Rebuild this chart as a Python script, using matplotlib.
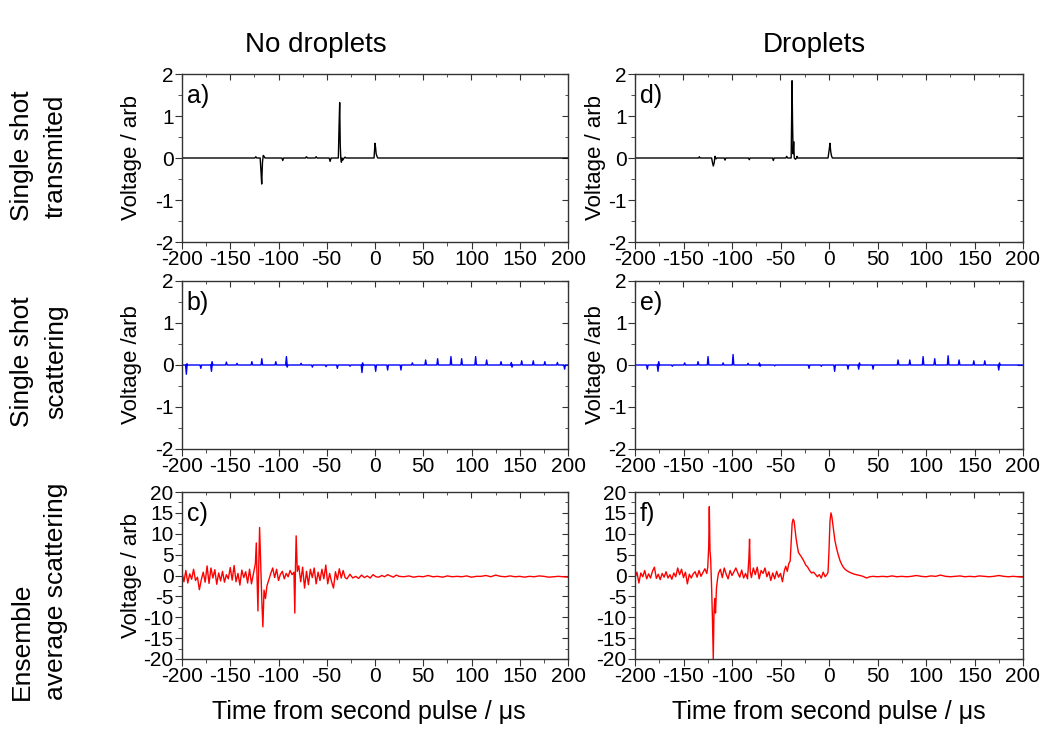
import numpy as np
import matplotlib
matplotlib.use('Agg')
import matplotlib.pyplot as plt
from matplotlib.ticker import MultipleLocator

plt.rcParams['font.family'] = ['Liberation Sans', 'DejaVu Sans']
plt.rcParams['axes.unicode_minus'] = False

# a) no droplets, single shot transmitted
a_t = [-200, -124.5, -123.5, -122.5, -119, -118.2, -117.4, -116.6, -115.8, -115, -114,
       -96.5, -95.6, -94.7, -72, -71, -70, -62, -61, -60, -47.5, -46.5, -45.5,
       -38, -37.2, -36.6, -36.0, -35.4, -34.8, -34.2, -33.4, -32, -31, -30,
       -1, 0, 0.6, 1.2, 2.2, 3, 200]
a_v = [0, 0, 0.03, 0, 0, -0.3, -0.62, -0.1, 0.06, 0.04, 0,
       0, -0.06, 0, 0, 0.03, 0, 0, 0.03, 0, 0, -0.08, 0,
       0, 0.8, 1.32, 0.3, -0.02, -0.1, 0, -0.05, 0, 0.02, 0,
       0, 0.35, 0.25, 0.1, 0.03, 0, 0]

# d) droplets, single shot transmitted
d_t = [-200, -134.5, -133.7, -133, -121, -120.2, -119.3, -118.4, -117.5, -116.5, -115.5,
       -108, -107.2, -106.4, -83, -82.2, -81.4, -58.2, -57.4, -56.6, -44.5, -43.6, -42.7,
       -39, -38.5, -38.1, -37.6, -37.0, -36.4, -35.8, -34.5, -33.5, -33, -32.3,
       -1, 0.2, 1.0, 1.8, 2.6, 3.5, 200]
d_v = [0, 0, 0.03, 0, 0, -0.1, -0.19, -0.12, 0.04, -0.02, 0,
       0, -0.05, 0, 0, -0.04, 0, 0, -0.06, 0, 0, 0.04, 0,
       0, 1.0, 1.84, 0.9, 0.1, 0.39, 0, -0.03, 0, 0.04, 0,
       0, 0.2, 0.35, 0.15, 0.05, 0, 0]

# b) no droplets, single shot scattering (pulse times / heights)
b_spike_t = [-195.5, -194.8, -180.5, -169.5, -168.8, -154, -143, -127.6, -117.3, -102.8,
             -91.8, -91.0, -76.6, -64.9, -50.7, -39, -25.9, -13.5, -12.8, 0.7,
             13.1, 26.9, 38.7, 52.5, 64.9, 78.7, 89.8, 104.3, 115.7, 130.6,
             141.2, 142.0, 152, 164, 176, 189, 196.5]
b_spike_v = [-0.22, 0.03, -0.08, -0.15, 0.08, 0.07, 0.04, 0.08, 0.15, 0.08,
             0.2, -0.05, 0.04, -0.05, -0.04, -0.08, -0.03, -0.18, 0.05, -0.15,
             -0.12, -0.12, 0.05, 0.12, 0.15, 0.2, 0.15, 0.2, 0.12, 0.08,
             0.06, -0.05, 0.1, 0.1, 0.08, 0.06, -0.1]

# e) droplets, single shot scattering
e_spike_t = [-187.3, -176.3, -175.5, -161.5, -148.8, -135, -124.7, -109.2, -98.9, -83.4,
             -71.8, -71.0, -55.9, -20.6, -7.9, 5.8, 19.6, 30.6, 31.4, 45.4,
             71.2, 83.3, 97, 109, 122.8, 134.1, 149.3, 160.6, 175.0, 175.8]
e_spike_v = [-0.1, -0.15, 0.08, -0.03, 0.05, 0.08, 0.2, 0.05, 0.25, 0.04,
             0.05, -0.03, -0.02, -0.08, -0.03, -0.15, -0.1, -0.1, 0.05, -0.1,
             0.12, 0.12, 0.2, 0.15, 0.22, 0.12, 0.1, 0.1, -0.12, 0.05]

# c) no droplets, ensemble average scattering
c_t = (list(range(-200, -123, 2))
       + [-123, -122.4, -121.3, -120.5, -119.6, -118.5, -117.2, -116.2, -115, -113.5, -112]
       + list(range(-110, -83, 2))
       + [-83.1, -82.4, -81.7, -80.5]
       + list(range(-79, -30, 2))
       + list(range(-29, 26, 3))
       + list(range(30, 201, 5)))
c_v = ([0.8, -1.5, 1.2, -1.8, 0.4, -0.9, 1.5, -1.2, -0.4, -3.4,
        -1.0, 0.8, -1.6, 2.3, -1.9, 1.8, -0.6, 1.4, -2.1, 0.6,
        -1.3, 1.0, -1.6, 0.2, -0.8, 1.9, -1.1, 2.4, -1.5, 0.5,
        -2.3, 1.3, -0.5, 0.9, -1.8, 1.5, -2.0, 0.4, 2.8]
       + [7.8, 1.0, -8.5, 2.0, 11.5, 3.0, -6.5, -12.3, -3.5, -5.5, -2.5]
       + [-1.0, 0.5, 1.8, -0.5, 1.5, -1.2, 0.3, 1.0, -0.8, 0.5, -0.3, 1.2, 0.2, 0.8]
       + [-9.0, 2.0, 9.5, 1.0]
       + [2.3, -1.5, 2.0, -3.0, 1.0, -2.2, 1.5, -0.5, 1.8, -2.0, 0.8, -1.2, 1.5,
          -0.8, 2.5, -2.0, 0.5, -1.5, -3.0, 0.9, -1.0, 1.6, -0.6, 1.2, -0.5]
       + [-0.8, 0.3, -0.6, -0.2, -0.7, 0.1, -0.5, -0.1, -0.6, 0.2,
          -0.3, -0.4, 0.0, -0.3, 0.2, -0.1, -0.4, 0.1, -0.2]
       + [-0.3, -0.1, -0.4, -0.2, -0.3, 0.0, -0.3, -0.2, -0.4, -0.1,
          -0.3, -0.2, -0.3, -0.1, -0.4, -0.2, -0.2, 0.0, -0.3, 0.1,
          -0.2, -0.3, -0.1, -0.3, -0.2, -0.4, -0.2, -0.3, -0.1, -0.2,
          -0.4, -0.3, -0.2, -0.3, -0.4])

# f) droplets, ensemble average scattering
f_t = (list(range(-200, -125, 2))
       + [-125, -124, -123.4, -122.7, -122, -121, -120.2, -119.3, -118.6, -117.8, -117, -116, -115, -114]
       + list(range(-112, -83, 2))
       + [-82.6, -81.9, -81.2]
       + list(range(-80, -45, 2))
       + [-44.6, -43, -41.5, -40, -39, -38, -37, -36, -35, -34, -33, -31.5, -30, -28,
          -26, -24, -22, -20, -18, -16, -14, -12, -10, -8, -6, -4, -2, -1]
       + [0, 1, 2, 3, 4.4, 6, 7.8, 9.5, 11.3, 13, 14.7, 16.5, 18.1, 21, 25, 28, 32, 35, 38.7, 42, 45.6]
       + list(range(50, 201, 5)))
f_v = ([-0.5, 0.8, -1.8, 0.6, -0.3, 1.2, -0.8, 0.4, -0.6, 1.0,
        2.0, -0.7, 0.3, -1.0, 0.5, -0.4, 0.9, -0.6, 0.2, -0.9,
        0.6, -0.3, 1.8, 0.2, 1.5, -0.5, 0.8, -2.0, 0.3, -0.6,
        0.4, 0.9, -0.4, 1.2, -0.2, 0.7, 1.6, 0.5]
       + [2.0, 7.0, 16.5, 6.0, 4.0, -3.0, -10.0, -20.0, -9.0, -5.5, -9.0, -3.0, -1.0, 0.5]
       + [1.5, -0.5, 1.8, 0.3, -0.8, 1.2, 0.0, 0.9, 1.8, 0.6, -0.4, 1.3, -0.6, 0.5, -0.8]
       + [4.0, 8.7, 1.0]
       + [-0.5, 1.8, 0.2, 2.0, -0.8, 1.2, 0.5, 1.8, -0.3, 0.9, -1.2, 0.6, -0.8, 1.0, -0.4, 0.5, -1.5, 1.2]
       + [2.2, 1.0, 2.8, 3.5, 8.0, 12.5, 13.5, 13.0, 11.0, 9.0, 7.5, 5.5, 5.0, 4.3,
          3.5, 2.5, 2.0, 1.2, 0.6, 0.8, 0.3, -0.3, 0.2, -0.6, 0.8, -0.3, 0.3, 0.8]
       + [6.0, 13.0, 15.0, 14.0, 11.5, 8.5, 6.5, 5.0, 3.6, 2.7, 2.0, 1.5, 1.2, 0.8, 0.4,
          0.2, 0.0, -0.2, -0.6, -0.3, -0.2]
       + [-0.3, -0.2, -0.3, -0.1, -0.3, -0.2, -0.3, -0.2, 0.0, -0.2,
          -0.3, -0.1, -0.2, 0.1, -0.2, -0.3, -0.2, -0.1, -0.3, -0.2,
          -0.3, -0.1, -0.2, -0.3, -0.2, 0.0, -0.2, -0.3, -0.2, -0.3, -0.4])


def spike_trace(ts, vs, w=0.8):
    x, y = [-200], [0]
    for t, v in zip(ts, vs):
        x += [t - w, t, t + w]
        y += [0, v, 0]
    x.append(200)
    y.append(0)
    return x, y


W, H = 1044, 730
fig = plt.figure(figsize=(W / 100, H / 100), dpi=100)


def box(l, t, r, b):
    return [l / W, 1 - b / H, (r - l) / W, (b - t) / H]


rows = [(74, 242), (281, 449), (492, 659)]
cols = [(182, 568), (635, 1023)]

TICK = 15


def style(ax, big):
    ax.set_xlim(-200, 200)
    ax.xaxis.set_major_locator(MultipleLocator(50))
    ax.xaxis.set_minor_locator(MultipleLocator(25))
    if big:
        ax.set_ylim(-20, 20)
        ax.yaxis.set_major_locator(MultipleLocator(5))
        ax.yaxis.set_minor_locator(MultipleLocator(2.5))
    else:
        ax.set_ylim(-2, 2)
        ax.yaxis.set_major_locator(MultipleLocator(1))
        ax.yaxis.set_minor_locator(MultipleLocator(0.5))
    for s in ax.spines.values():
        s.set_color('#333333')
        s.set_linewidth(1.0)
    ax.tick_params(which='both', direction='out', labelsize=TICK, pad=1,
                   color='#333333', top=False, right=False)
    ax.tick_params(which='major', length=5)
    ax.tick_params(which='minor', length=3)
    sec = ax.secondary_xaxis('top')
    sec.xaxis.set_major_locator(MultipleLocator(50))
    sec.xaxis.set_minor_locator(MultipleLocator(25))
    sec.tick_params(which='both', direction='in', labeltop=False, color='#333333')
    sec.tick_params(which='major', length=4)
    sec.tick_params(which='minor', length=2.5)
    sec.spines['top'].set_visible(False)
    secy = ax.secondary_yaxis('right')
    secy.yaxis.set_major_locator(ax.yaxis.get_major_locator())
    secy.yaxis.set_minor_locator(ax.yaxis.get_minor_locator())
    secy.tick_params(which='both', direction='in', labelright=False, color='#333333')
    secy.tick_params(which='major', length=4)
    secy.tick_params(which='minor', length=2.5)
    secy.spines['right'].set_visible(False)


traces = [
    [(a_t, a_v, 'black'), (d_t, d_v, 'black')],
    [(*spike_trace(b_spike_t, b_spike_v), '#0000ff'), (*spike_trace(e_spike_t, e_spike_v), '#0000ff')],
    [(c_t, c_v, '#ff0000'), (f_t, f_v, '#ff0000')],
]
letters = [['a)', 'd)'], ['b)', 'e)'], ['c)', 'f)']]
ylabels = [['Voltage / arb', 'Voltage / arb'], ['Voltage /arb', 'Voltage /arb'], ['Voltage / arb', None]]
ylabel_x = [132, 596]

for r, (top, bot) in enumerate(rows):
    for c, (lft, rgt) in enumerate(cols):
        ax = fig.add_axes(box(lft, top, rgt, bot))
        tx, ty, col = traces[r][c]
        ax.plot(tx, ty, color=col, lw=1.0)
        style(ax, r == 2)
        ax.text(0.012, 0.94, letters[r][c], transform=ax.transAxes,
                fontsize=18, va='top', ha='left')
        if ylabels[r][c]:
            fig.text(ylabel_x[c] / W, 1 - (top + bot) / 2 / H, ylabels[r][c],
                     rotation=90, fontsize=16, ha='center', va='center')

# column titles
fig.text(316 / W, 1 - 45 / H, 'No droplets', fontsize=20, ha='center', va='center')
fig.text(814 / W, 1 - 45 / H, 'Droplets', fontsize=20, ha='center', va='center')

# x axis titles
fig.text(369 / W, 1 - 712 / H, 'Time from second pulse / μs', fontsize=18, ha='center', va='center')
fig.text(829 / W, 1 - 712 / H, 'Time from second pulse / μs', fontsize=18, ha='center', va='center')

# row descriptions
row_text = [('Single shot', 'transmited', 156), ('Single shot', 'scattering', 362),
            ('Ensemble', 'average scattering', None)]
for l1, l2, yc in row_text:
    if yc is not None:
        fig.text(22 / W, 1 - yc / H, l1, rotation=90, fontsize=19, ha='center', va='center')
        fig.text(56 / W, 1 - yc / H, l2, rotation=90, fontsize=19, ha='center', va='center')
    else:
        fig.text(22 / W, 1 - 700 / H, l1, rotation=90, fontsize=19, ha='center', va='bottom')
        fig.text(56 / W, 1 - 700 / H, l2, rotation=90, fontsize=19, ha='center', va='bottom')

fig.savefig('out.png', dpi=100)
